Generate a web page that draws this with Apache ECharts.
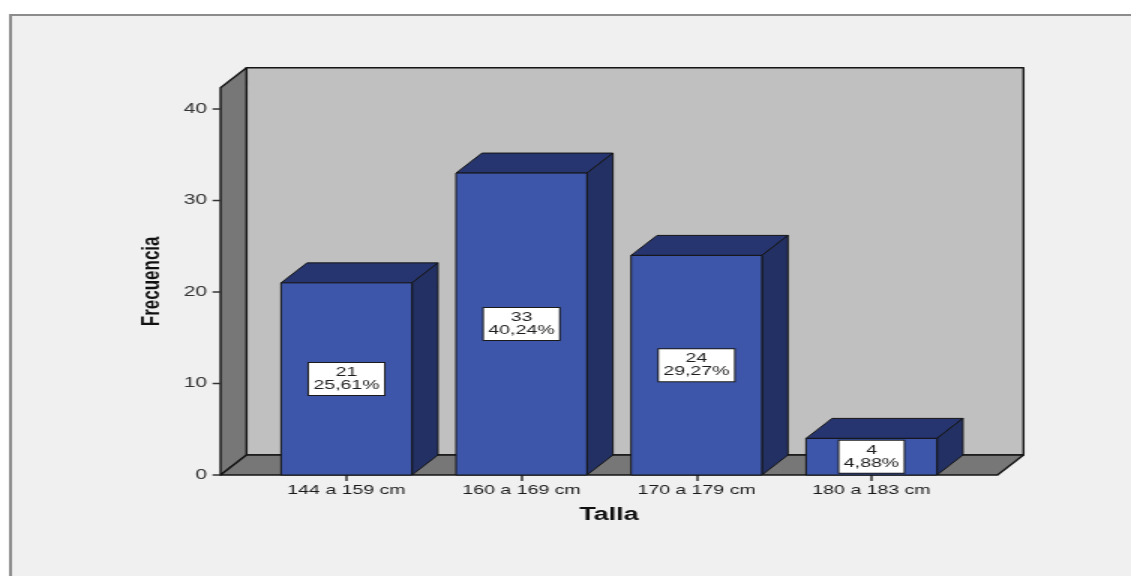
<!DOCTYPE html>
<html>
<head>
<meta charset="utf-8">
<script src="https://cdn.jsdelivr.net/npm/echarts@6/dist/echarts.min.js"></script>
<style>
  html, body { margin: 0; padding: 0; background: #ffffff; overflow: hidden; }
  /* the chart is laid out on a narrower canvas and widened, giving the wide SPSS-style lettering */
  #chart { width: 754px; height: 576px; transform: scaleX(1.5); transform-origin: 0 0; }
</style>
</head>
<body>
<div id="chart"></div>
<script>
// Talla (height bands) vs. frequency
const categories = ['144 a 159 cm', '160 a 169 cm', '170 a 179 cm', '180 a 183 cm'];
const frecuencias = [21, 33, 24, 4];
const porcentajes = ['25,61%', '40,24%', '29,27%', '4,88%'];
const yTicks = [0, 10, 20, 30, 40];

// Value range shown by the box (front plane)
const Y_MAX = 42.33;
const X_MIN = -0.72, X_MAX = 3.72;
// depth offset of the 3D box, in px (layout space)
const DX = 17.33, DY = 20;
const HALF_BAR = 0.374;
const TICK_LEN = 5.3;

const FONT = "'Liberation Sans', Arial, sans-serif";
const EDGE = '#151515';

const chart = echarts.init(document.getElementById('chart'), null, { renderer: 'canvas' });

// back wall, left wall, floor and the value-axis tick marks
function renderWalls(params, api) {
  const a = api.coord([X_MIN, 0]);
  const b = api.coord([X_MAX, Y_MAX]);
  const left = a[0], bottom = a[1], right = b[0], top = b[1];
  const stroke = { stroke: EDGE, lineWidth: 1.4, lineJoin: 'round' };
  const ticks = yTicks.map(t => {
    const y = api.coord([X_MIN, t])[1];
    return { type: 'line', shape: { x1: left - TICK_LEN, y1: y, x2: left, y2: y },
             style: { stroke: '#333333', lineWidth: 1.5 } };
  });
  return {
    type: 'group',
    children: [
      { type: 'rect', shape: { x: left + DX, y: top - DY, width: right - left, height: bottom - top },
        style: Object.assign({ fill: '#c0c0c0' }, stroke) },
      { type: 'polygon', shape: { points: [[left, bottom], [left, top], [left + DX, top - DY], [left + DX, bottom - DY]] },
        style: Object.assign({ fill: '#777777' }, stroke) },
      { type: 'polygon', shape: { points: [[left, bottom], [right, bottom], [right + DX, bottom - DY], [left + DX, bottom - DY]] },
        style: Object.assign({ fill: '#777777' }, stroke) }
    ].concat(ticks)
  };
}

function renderBar(params, api) {
  const i = api.value(0);
  const v = api.value(1);
  const p0 = api.coord([i - HALF_BAR, 0]);
  const p1 = api.coord([i + HALF_BAR, v]);
  const x0 = p0[0], yb = p0[1], x1 = p1[0], yt = p1[1];
  const stroke = { stroke: EDGE, lineWidth: 1, lineJoin: 'round' };
  return {
    type: 'group',
    children: [
      { type: 'polygon', shape: { points: [[x0, yt], [x0 + DX, yt - DY], [x1 + DX, yt - DY], [x1, yt]] },
        style: Object.assign({ fill: '#26356f' }, stroke) },
      { type: 'polygon', shape: { points: [[x1, yt], [x1 + DX, yt - DY], [x1 + DX, yb - DY], [x1, yb]] },
        style: Object.assign({ fill: '#233064' }, stroke) },
      { type: 'rect', shape: { x: x0, y: yt, width: x1 - x0, height: yb - yt },
        style: Object.assign({ fill: '#3d56a9' }, stroke) },
      { type: 'text', x: (x0 + x1) / 2, y: (yt + yb) / 2,
        style: {
          text: frecuencias[params.dataIndex] + '\n' + porcentajes[params.dataIndex],
          align: 'center', verticalAlign: 'middle',
          font: '13px ' + FONT, fill: '#1e1e1e', lineHeight: 13,
          backgroundColor: '#ffffff', borderColor: '#1a1a1a', borderWidth: 1,
          padding: [3, 3, 3, 3]
        } }
    ]
  };
}

const option = {
  backgroundColor: '#ffffff',
  animation: false,
  graphic: [{
    type: 'rect', z: -10, silent: true,
    shape: { x: 7, y: 15, width: 820, height: 620 },
    style: { fill: '#f0f0f0', stroke: '#8c8c8c', lineWidth: 2 }
  }],
  grid: [
    { left: 147, right: 89, top: 87.7, bottom: 101 },
    { left: 172.67, right: 114.67, top: 87.7, bottom: 101 }
  ],
  xAxis: [
    { type: 'value', gridIndex: 0, min: X_MIN, max: X_MAX, show: false },
    {
      type: 'category', gridIndex: 1, data: categories,
      name: 'Talla', nameLocation: 'middle', nameGap: 31,
      nameTextStyle: { fontFamily: FONT, fontSize: 18, fontWeight: 'bold', color: '#111111' },
      axisLine: { show: false },
      axisTick: { show: true, alignWithLabel: true, length: 6, lineStyle: { color: '#333333', width: 1.5 } },
      axisLabel: { margin: 9, fontFamily: FONT, fontSize: 13, color: '#1a1a1a' },
      splitLine: { show: false }
    }
  ],
  yAxis: [
    {
      type: 'value', gridIndex: 0, min: 0, max: Y_MAX, interval: 10,
      name: 'Frecuencia', nameLocation: 'middle', nameRotate: 90, nameGap: 37,
      nameTextStyle: { fontFamily: FONT, fontSize: 17, fontWeight: 'bold', color: '#111111' },
      axisLine: { show: false },
      axisTick: { show: false },
      axisLabel: { margin: 9, customValues: yTicks, fontFamily: FONT, fontSize: 14, color: '#333333' },
      splitLine: { show: false }
    },
    { type: 'value', gridIndex: 1, min: 0, max: Y_MAX, show: false }
  ],
  series: [
    {
      type: 'custom', name: 'walls', xAxisIndex: 0, yAxisIndex: 0, z: 1, silent: true,
      renderItem: renderWalls, data: [[0, 0]], clip: false
    },
    {
      type: 'custom', name: 'Frecuencia', xAxisIndex: 0, yAxisIndex: 0, z: 3, silent: true,
      renderItem: renderBar, clip: false,
      data: frecuencias.map((v, i) => [i, v])
    }
  ]
};

chart.setOption(option);
</script>
</body>
</html>
